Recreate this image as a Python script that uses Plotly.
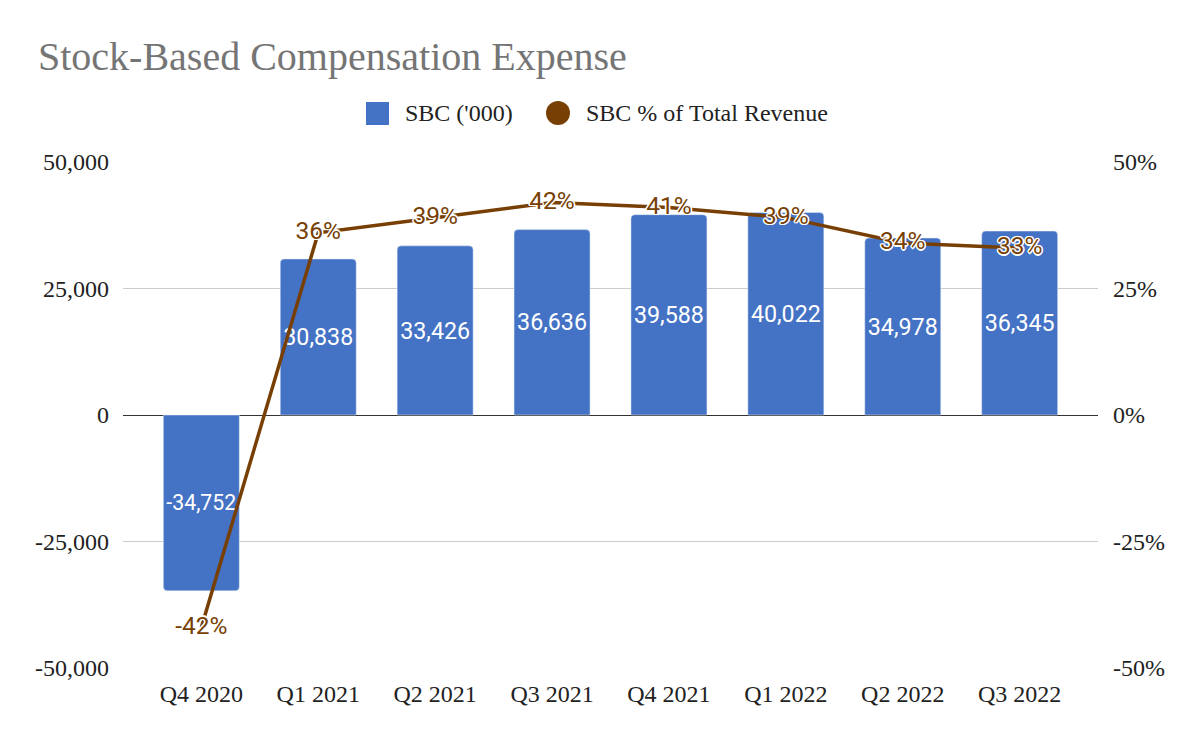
import plotly.graph_objects as go

quarters = ["Q4 2020", "Q1 2021", "Q2 2021", "Q3 2021", "Q4 2021", "Q1 2022", "Q2 2022", "Q3 2022"]
sbc = [-34752, 30838, 33426, 36636, 39588, 40022, 34978, 36345]
sbc_pct = [-0.42, 0.36, 0.39, 0.42, 0.41, 0.39, 0.34, 0.33]

y_ticks = [-50000, -25000, 0, 25000, 50000]
y_tick_text = ["-50,000", "-25,000", "0", "25,000", "50,000"]
y2_ticks = [-0.5, -0.25, 0, 0.25, 0.5]
y2_tick_text = ["-50%", "-25%", "0%", "25%", "50%"]

BAR_C = "#4472c4"
LINE_C = "#783f04"
SERIF = "Liberation Serif"
SANS = "Roboto"

fig = go.Figure()
fig.add_trace(go.Bar(
    x=quarters, y=sbc, name="SBC ('000)",
    marker=dict(color=BAR_C, cornerradius=4),
    width=0.65,
    text=[f"{v:,}" for v in sbc],
    textposition="inside", insidetextanchor="middle", textangle=0,
    constraintext="none",
    textfont=dict(family=SANS, size=24.5, color="white"),
    showlegend=False, hoverinfo="x+y",
))
fig.add_trace(go.Scatter(
    x=quarters, y=sbc_pct, name="SBC % of Total Revenue", yaxis="y2",
    mode="lines+text",
    line=dict(color=LINE_C, width=3.5),
    text=[f"{round(v*100):d}%" for v in sbc_pct],
    textposition="middle center",
    textfont=dict(family=SANS, size=24.5, color=LINE_C,
                  shadow="1px 1px 0 #fff, -1px -1px 0 #fff, 1px -1px 0 #fff, -1px 1px 0 #fff, 0 1.5px 0 #fff, 0 -1.5px 0 #fff, 1.5px 0 0 #fff, -1.5px 0 0 #fff"),
    cliponaxis=False, showlegend=False,
))

L, R, T, B = 123, 102, 162, 74
W, H = 1200, 742
pw, ph = W - L - R, H - T - B
def px(x):
    return (x - L) / pw
def py(y):
    return (H - B - y) / ph

shapes = [
    dict(type="rect", xref="paper", yref="paper", x0=px(366), x1=px(389), y0=py(125), y1=py(102),
         fillcolor=BAR_C, line=dict(width=0)),
    dict(type="circle", xref="paper", yref="paper", x0=px(546), x1=px(570), y0=py(125), y1=py(101),
         fillcolor=LINE_C, line=dict(width=0)),
]
annotations = [
    dict(text="Stock-Based Compensation Expense", xref="paper", yref="paper", x=px(36), y=py(56),
         xanchor="left", yanchor="middle", showarrow=False,
         font=dict(family=SERIF, size=40, color="#757575")),
    dict(text="SBC ('000)", xref="paper", yref="paper", x=px(403), y=py(113),
         xanchor="left", yanchor="middle", showarrow=False,
         font=dict(family=SERIF, size=24, color="#222222")),
    dict(text="SBC % of Total Revenue", xref="paper", yref="paper", x=px(584), y=py(113),
         xanchor="left", yanchor="middle", showarrow=False,
         font=dict(family=SERIF, size=24, color="#222222")),
]

fig.update_layout(
    width=W, height=H,
    margin=dict(l=L, r=R, t=T, b=B),
    paper_bgcolor="white", plot_bgcolor="white",
    shapes=shapes, annotations=annotations,
    showlegend=False,
    xaxis=dict(range=[-0.67, 7.67], showgrid=False, zeroline=False, showline=False,
               ticks="", ticklabelstandoff=9,
               tickfont=dict(family=SERIF, size=24, color="#222222")),
    yaxis=dict(range=[-50000, 50000], tickvals=y_ticks, ticktext=y_tick_text,
               showgrid=True, gridcolor="#cccccc", gridwidth=1,
               zeroline=True, zerolinecolor="#333333", zerolinewidth=1,
               ticks="", ticklabelstandoff=13,
               tickfont=dict(family=SERIF, size=24, color="#222222")),
    yaxis2=dict(range=[-0.5, 0.5], tickvals=y2_ticks, ticktext=y2_tick_text,
                overlaying="y", side="right", showgrid=False, zeroline=False,
                ticks="", ticklabelstandoff=14,
                tickfont=dict(family=SERIF, size=24, color="#222222")),
)

fig.write_html("out.html", config={"displayModeBar": False},
               post_script="document.body.style.margin='0';")
